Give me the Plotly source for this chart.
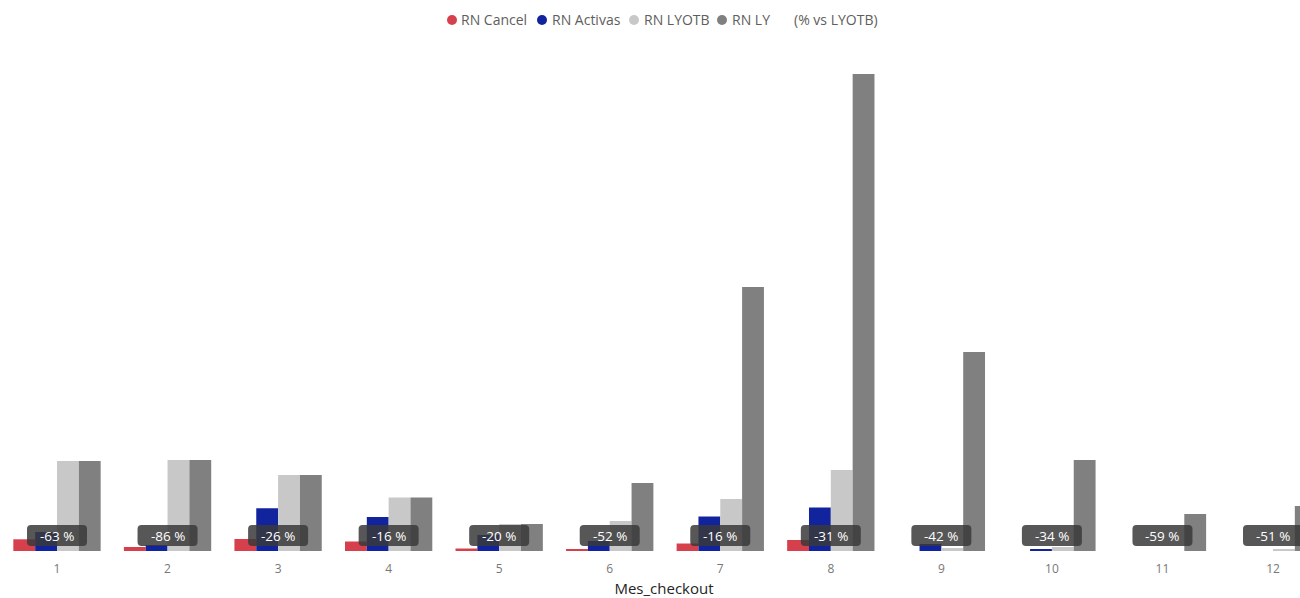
import plotly.graph_objects as go

months = [1, 2, 3, 4, 5, 6, 7, 8, 9, 10, 11, 12]
rn_cancel = [11.7, 4, 12, 9.5, 2.5, 1.5, 7.5, 11, 0, 0, 0, 0]
rn_activas = [19, 6, 42.7, 34, 16, 10, 34.5, 43.5, 7, 2, 0, 0]
rn_lyotb = [90, 91, 76, 53.5, 27, 30, 52, 81, 3, 4, 0, 1.5]
rn_ly = [90, 91, 76, 53.5, 27, 68, 264, 477, 199, 91, 37, 45]
pct_vs_lyotb = [-63, -86, -26, -16, -20, -52, -16, -31, -42, -34, -59, -51]
legend_names = ["RN Cancel", "RN Activas", "RN LYOTB", "RN LY"]
legend_extra = "(% vs LYOTB)"

colors = ["#D6404C", "#12239E", "#C8C8C8", "#808080"]
series_vals = [rn_cancel, rn_activas, rn_lyotb, rn_ly]

FONT = "Open Sans, Segoe UI, sans-serif"
# plot area wider than the 1300px window: the reference is clipped at the right edge
W, H = 1328, 598
T, B = 51, 47
PH = H - T - B
LABEL_Y = 15.5
STEP = 110.55  # px per month


def px_x(p):
    return p / W


def px_y(p):
    return (H - B - p) / PH


fig = go.Figure()
for name, vals, col in zip(legend_names, series_vals, colors):
    fig.add_trace(go.Bar(x=months, y=vals, name=name, marker=dict(color=col, line=dict(width=0)),
                         showlegend=False))

# rounded label boxes
bw, bh, r = 30, 10.5, 4
box_path = (f"M {-bw + r},{-bh} L {bw - r},{-bh} Q {bw},{-bh} {bw},{-bh + r} "
            f"L {bw},{bh - r} Q {bw},{bh} {bw - r},{bh} L {-bw + r},{bh} "
            f"Q {-bw},{bh} {-bw},{bh - r} L {-bw},{-bh + r} Q {-bw},{-bh} {-bw + r},{-bh} Z")
for m, p in zip(months, pct_vs_lyotb):
    fig.add_shape(type="path", xref="x", yref="y", xsizemode="pixel", ysizemode="pixel",
                  xanchor=m, yanchor=LABEL_Y, path=box_path,
                  fillcolor="rgba(58,58,58,0.85)", line=dict(width=0), layer="above")
    fig.add_annotation(x=m, y=LABEL_Y, xref="x", yref="y", text=f"{p} %", showarrow=False,
                       font=dict(family=FONT, size=13.5, color="white"))

# legend (custom, compact like the reference)
leg_y = px_y(20)
circle_x = [452, 542, 634, 722]
text_x = [459, 550, 642, 730]
for cx, tx, name, col in zip(circle_x, text_x, legend_names, colors):
    fig.add_shape(type="circle", xref="paper", yref="paper", xsizemode="pixel", ysizemode="pixel",
                  xanchor=px_x(cx), yanchor=leg_y, x0=-5, x1=5, y0=-5, y1=5,
                  fillcolor=col, line=dict(width=0))
    fig.add_annotation(x=px_x(tx), y=leg_y, xref="paper", yref="paper", xanchor="left", yanchor="middle",
                       text=name, showarrow=False, font=dict(family=FONT, size=14, color="#605E5C"))
fig.add_annotation(x=px_x(792), y=leg_y, xref="paper", yref="paper", xanchor="left", yanchor="middle",
                   text=legend_extra, showarrow=False, font=dict(family=FONT, size=14, color="#605E5C"))

x_left = 1 - 57 / STEP
x_right = 12 + (W - 1273) / STEP

fig.update_layout(
    width=W, height=H,
    margin=dict(l=0, r=0, t=T, b=B),
    paper_bgcolor="white", plot_bgcolor="white",
    barmode="group", bargap=0.21, bargroupgap=0,
    font=dict(family=FONT, color="#605E5C"),
    showlegend=False,
    xaxis=dict(range=[x_left, x_right], tickvals=months, ticktext=[str(m) for m in months],
               showgrid=False, zeroline=False, showline=False,
               ticks="outside", ticklen=7, tickcolor="rgba(0,0,0,0)",
               tickfont=dict(family=FONT, size=12, color="#777777"),
               title=dict(text="Mes_checkout", font=dict(family=FONT, size=15, color="#252423"), standoff=8),
               automargin=False),
    yaxis=dict(range=[0, PH], visible=False, showgrid=False, zeroline=False),
)

fig.write_html(
    "out.html",
    config={"displayModeBar": False},
    post_script="document.body.style.margin='0';document.body.style.overflow='hidden';"
                "document.documentElement.style.overflow='hidden';",
)
